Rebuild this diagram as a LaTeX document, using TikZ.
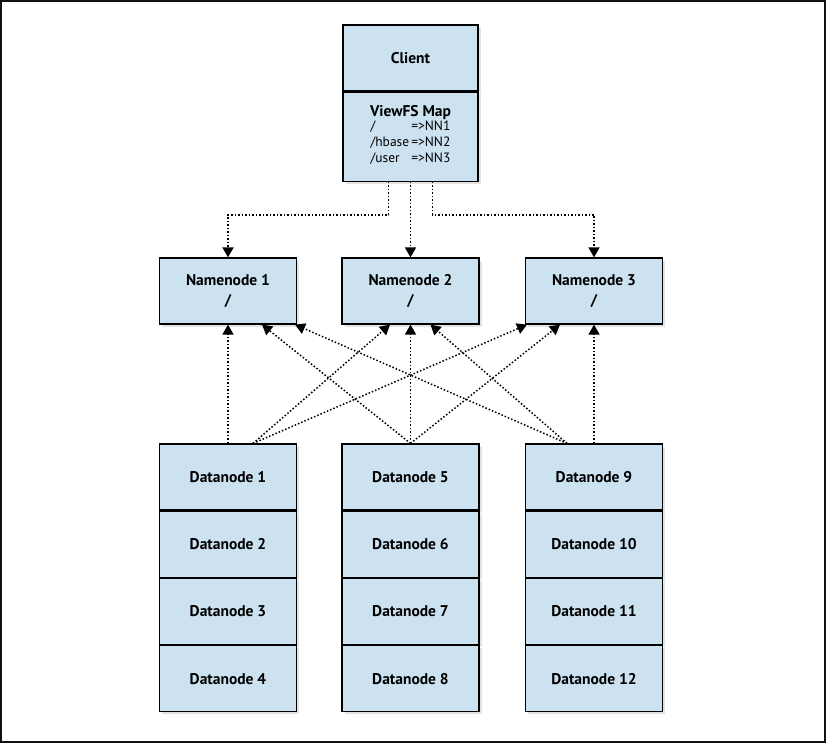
\documentclass[tikz,border=0pt]{standalone}
\usepackage{fontspec}
\setmainfont{PT Sans}
\usetikzlibrary{arrows.meta,positioning,shadows}
\definecolor{hdfsBlue}{HTML}{CCE2F0}
\definecolor{frameGrey}{HTML}{111111}
\tikzset{
  hdfsbox/.style={rectangle, draw=black, fill=hdfsBlue, line width=1.2pt, align=center, font=\bfseries\fontsize{15.5}{20}\selectfont, minimum width=137pt, minimum height=66pt, inner sep=2pt, drop shadow={shadow xshift=2.5pt, shadow yshift=-2.5pt, opacity=0.22}},
  rpcarrow/.style={-{Triangle[length=10pt,width=11pt]}, dotted, line width=1.5pt, draw=black},
}
\begin{document}
\begin{tikzpicture}[x=1pt,y=-1pt]
  \useasboundingbox (0,0) rectangle (827,745);
  \draw[line width=1.5pt, draw=frameGrey] (1,1) rectangle (825,742);

  % client with its mount table
  \node[hdfsbox, minimum width=135pt] (client) at (410.5,58) {Client};
  \node[hdfsbox, minimum width=135pt, minimum height=89pt, below=0pt of client] (viewfs) {ViewFS Map\\[-1pt]
    {\mdseries\fontsize{13.5}{16}\selectfont\begin{tabular}{@{}l@{\hspace{2pt}}l@{}}/ & =>NN1\\ /hbase & =>NN2\\ /user & =>NN3\end{tabular}}};

  % namenodes
  \node[hdfsbox] (nn1) at (228,291) {Namenode 1\\/};
  \node[hdfsbox] (nn2) at (410.5,291) {Namenode 2\\/};
  \node[hdfsbox] (nn3) at (594,291) {Namenode 3\\/};

  % datanodes
  \node[hdfsbox] (dn1) at (228,477) {Datanode 1};
  \node[hdfsbox, below=0pt of dn1] (dn2) {Datanode 2};
  \node[hdfsbox, below=0pt of dn2] (dn3) {Datanode 3};
  \node[hdfsbox, below=0pt of dn3] (dn4) {Datanode 4};
  \node[hdfsbox] (dn5) at (410.5,477) {Datanode 5};
  \node[hdfsbox, below=0pt of dn5] (dn6) {Datanode 6};
  \node[hdfsbox, below=0pt of dn6] (dn7) {Datanode 7};
  \node[hdfsbox, below=0pt of dn7] (dn8) {Datanode 8};
  \node[hdfsbox] (dn9) at (594,477) {Datanode 9};
  \node[hdfsbox, below=0pt of dn9] (dn10) {Datanode 10};
  \node[hdfsbox, below=0pt of dn10] (dn11) {Datanode 11};
  \node[hdfsbox, below=0pt of dn11] (dn12) {Datanode 12};

  % client to namenodes
  \draw[rpcarrow] ([xshift=-22pt]viewfs.south) -- ++(0,33) -| (nn1.north);
  \draw[rpcarrow] (viewfs.south) -- (nn2.north);
  \draw[rpcarrow] ([xshift=22pt]viewfs.south) -- ++(0,33) -| (nn3.north);

  % datanodes report to every namenode
  \draw[rpcarrow] (dn1.north) -- (nn1.south);
  \draw[rpcarrow] ([xshift=25pt]dn1.north) -- ([xshift=-20.5pt]nn2.south);
  \draw[rpcarrow] ([xshift=25pt]dn1.north) -- ([xshift=-67pt]nn3.south);
  \draw[rpcarrow] (dn5.north) -- ([xshift=34pt]nn1.south);
  \draw[rpcarrow] (dn5.north) -- (nn2.south);
  \draw[rpcarrow] (dn5.north) -- ([xshift=-34pt]nn3.south);
  \draw[rpcarrow] ([xshift=-27pt]dn9.north) -- ([xshift=67pt]nn1.south);
  \draw[rpcarrow] ([xshift=-27pt]dn9.north) -- ([xshift=20pt]nn2.south);
  \draw[rpcarrow] (dn9.north) -- (nn3.south);
\end{tikzpicture}
\end{document}
